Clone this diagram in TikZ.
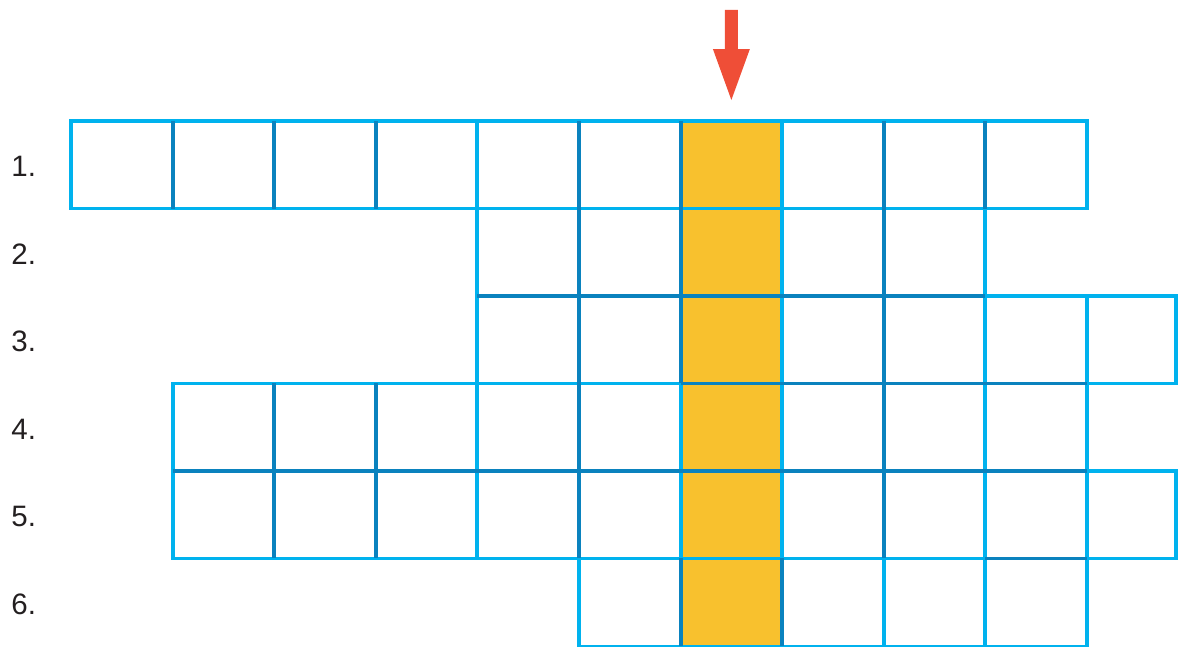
\documentclass[tikz,border=0pt]{standalone}
\usepackage{fontspec}
\setmainfont{Liberation Sans}
\usetikzlibrary{positioning}

\definecolor{gridlight}{HTML}{00B2EE}
\definecolor{griddark}{HTML}{0A82BE}
\definecolor{solution}{HTML}{F8C12E}
\definecolor{arrowred}{HTML}{EF4E37}
\definecolor{labelblack}{HTML}{231F20}

\begin{document}
\begin{tikzpicture}[x=2.54cm,y=-2.1875cm,
    light/.style={draw=gridlight,line width=2.8pt},
    dark/.style={draw=griddark,line width=2.8pt},
    rowlabel/.style={anchor=west,inner sep=0pt,text=labelblack,font=\fontsize{21}{24}\selectfont}]
    \useasboundingbox (-0.699,-1.383) rectangle (10.906,6.011);
    \def\R{10.88}
    \def\B{6.012}

    % Solution column
    \fill[solution] (6,0) rectangle (7,\B);

    % Rows of the crossword
    \draw[light] (0,0) rectangle (10,1);
    \draw[light] (4,1) rectangle (9,2);
    \draw[light] (4,2) rectangle (\R,3);
    \draw[light] (1,3) rectangle (10,4);
    \draw[light] (1,4) rectangle (\R,5);
    \draw[light] (5,5) rectangle (10,\B);

    % Cell walls
    \foreach \r/\cols in {1/{4,7},2/{7},3/{7,9,10},4/{4,6,7,9},5/{4,6,7,9,10},6/{8,9}}
        \foreach \c in \cols
            \draw[light] (\c,\r-1) -- (\c,\r);
    \foreach \r/\cols in {1/{1,2,3,5,6,8,9},2/{5,6,8},3/{5,6,8},4/{2,3,5,8},5/{2,3,5,8},6/{6,7}}
        \foreach \c in \cols
            \draw[dark] (\c,\r-1) -- (\c,\r);
    \foreach \y/\a/\b in {2/4/9,3/6/10,4/1/10,5/9/10}
        \draw[dark] (\a,\y) -- (\b,\y);

    % Arrow above the solution column
    \coordinate (arrowtip) at (6.5,-0.24);
    \fill[arrowred] (6.436,-1.269) -- (6.564,-1.269) -- (6.564,-0.823) -- (6.682,-0.823)
        -- (arrowtip) -- (6.318,-0.823) -- (6.436,-0.823) -- cycle;

    % Row numbers
    \foreach \r in {1,...,6}
        \node[rowlabel] (label\r) at (-0.59,\r-0.48) {\r.};
\end{tikzpicture}
\end{document}
